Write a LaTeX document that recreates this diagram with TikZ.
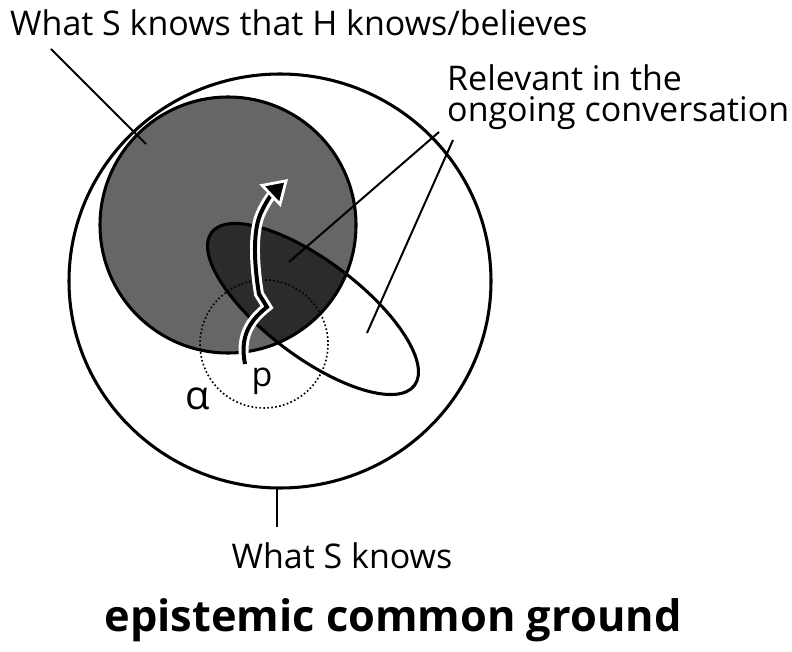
\documentclass[tikz,border=0pt]{standalone}
\usepackage{fontspec}
\setmainfont{Open Sans}
\usetikzlibrary{arrows.meta}

\begin{document}
\begin{tikzpicture}[
  x=0.03cm, y=-0.03cm,
  region/.style={draw=black, line width=2.6pt},
  leader/.style={draw=black, line width=1.7pt},
  caption/.style={font=\fontsize{29}{24.5}\selectfont, inner sep=0pt},
  title/.style={font=\fontsize{37}{40}\selectfont\bfseries, inner sep=0pt},
  relrot/.style={rotate around={-37:(313,309)}}
]
\useasboundingbox (0,0) rectangle (792,652);

% the three regions
\draw[region, fill=white] (280,281) ellipse [x radius=211, y radius=207];
\fill[black!60] (228,225) circle [radius=128];
\begin{scope}
  \clip (228,225) circle [radius=128];
  \fill[black!83, relrot] (313,309) ellipse [x radius=127, y radius=48];
\end{scope}
\draw[region] (228,225) circle [radius=128];
\draw[region, relrot] (313,309) ellipse [x radius=127, y radius=48];
\draw[black, line width=1.4pt, dotted] (264,344) circle [radius=64];

% labels
\node[caption, anchor=north west, align=left, font=\fontsize{29}{26.5}\selectfont] (relevant) at (447,64) {Relevant in the\\ongoing conversation};
\node[caption, anchor=base west] (knowsH) at (10,36) {What S knows that H knows/believes};
\node[caption, anchor=base] (knowsS) at (342,568) {What S knows};
\node[caption, anchor=base, font=\fontsize{34}{34}\selectfont] (alpha) at (198,409) {α};
\node[caption, anchor=base] (prop) at (262,386) {p};
\node[title, anchor=base] (title) at (393,631) {epistemic common ground};

% leader ends
\coordinate (knowsHtop) at (51,49);
\coordinate (knowsHend) at (146,144);
\coordinate (relAtop) at (439,132);
\coordinate (relAend) at (289,262);
\coordinate (relBtop) at (453,140);
\coordinate (relBend) at (367,333);
\coordinate (knowsStop) at (277,488);
\coordinate (knowsSend) at (277,527);

\draw[leader] (knowsHtop) -- (knowsHend);
\draw[leader] (relAtop) -- (relAend);
\draw[leader] (relBtop) -- (relBend);
\draw[leader] (knowsStop) -- (knowsSend);

% the move from p
\coordinate (pstart) at (245,364);
\coordinate (pkink) at (267,307);
\coordinate (pgoal) at (288,179);
\draw[white, line width=8.5pt, shorten >=16pt] (pstart) .. controls (240,338) and (248,322) .. (pkink)
  -- (259,294) .. controls (255,270) and (252,235) .. (260,215) .. controls (265,203) and (272,194) .. (pgoal);
\draw[black, line width=3.4pt, -{Triangle[length=21pt, width=26pt, line width=2.4pt, color=white, fill=black]}]
  (pstart) .. controls (240,338) and (248,322) .. (pkink)
  -- (259,294) .. controls (255,270) and (252,235) .. (260,215) .. controls (265,203) and (272,194) .. (pgoal);

\end{tikzpicture}
\end{document}
